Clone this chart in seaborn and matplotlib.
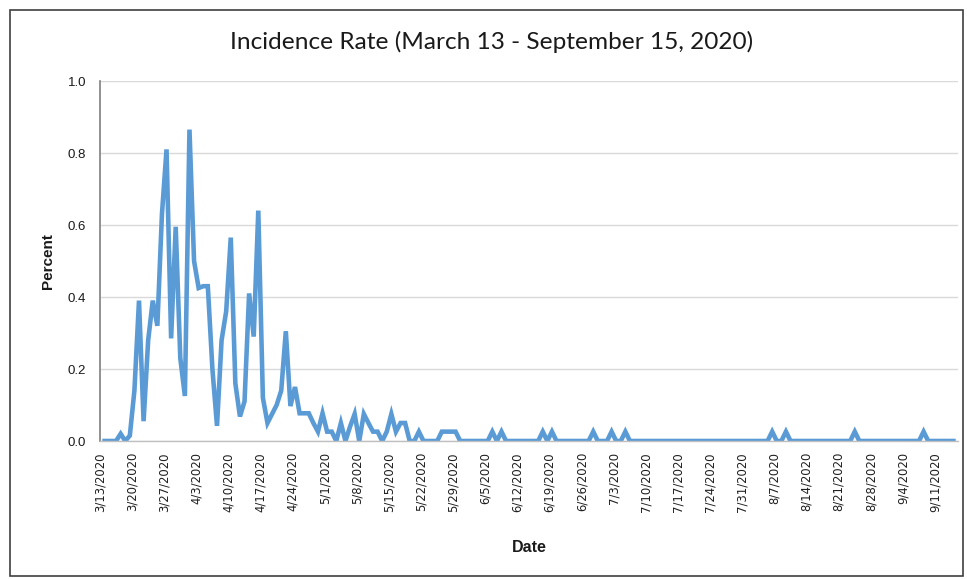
import matplotlib
matplotlib.use("Agg")
import matplotlib.pyplot as plt
import seaborn as sns
import pandas as pd
from matplotlib.patches import Rectangle

# ---- data ----
start_date = "2020-03-13"
end_date = "2020-09-15"
incidence = [
    0, 0, 0, 0, 0.02, 0, 0.015, 0.14, 0.39, 0.055,          # 3/13 - 3/22
    0.28, 0.39, 0.32, 0.63, 0.81, 0.285, 0.595, 0.23, 0.125, 0.865,  # 3/23 - 4/1
    0.5, 0.425, 0.43, 0.43, 0.2, 0.042, 0.28, 0.36, 0.565, 0.16,     # 4/2 - 4/11
    0.068, 0.11, 0.41, 0.29, 0.64, 0.12, 0.05, 0.075, 0.1, 0.14,     # 4/12 - 4/21
    0.305, 0.097, 0.15, 0.077, 0.077, 0.077, 0.05, 0.026, 0.077, 0.026,  # 4/22 - 5/1
    0.026, 0, 0.05, 0, 0.04, 0.075, 0, 0.075, 0.05, 0.026,           # 5/2 - 5/11
    0.026, 0, 0.026, 0.075, 0.026, 0.05, 0.05, 0, 0, 0.026,          # 5/12 - 5/21
    0, 0, 0, 0, 0.026, 0.026, 0.026, 0.026, 0, 0,                    # 5/22 - 5/31
    0, 0, 0, 0, 0, 0.026, 0, 0.026, 0, 0,                            # 6/1 - 6/10
    0, 0, 0, 0, 0, 0, 0.026, 0, 0.026, 0,                            # 6/11 - 6/20
    0, 0, 0, 0, 0, 0, 0, 0.026, 0, 0,                                # 6/21 - 6/30
    0, 0.026, 0, 0, 0.026, 0, 0, 0, 0, 0,                            # 7/1 - 7/10
    0, 0, 0, 0, 0, 0, 0, 0, 0, 0,                                    # 7/11 - 7/20
    0, 0, 0, 0, 0, 0, 0, 0, 0, 0,                                    # 7/21 - 7/30
    0, 0, 0, 0, 0, 0, 0.026, 0, 0, 0.026,                            # 7/31 - 8/9
    0, 0, 0, 0, 0, 0, 0, 0, 0, 0,                                    # 8/10 - 8/19
    0, 0, 0, 0, 0.026, 0, 0, 0, 0, 0,                                # 8/20 - 8/29
    0, 0, 0, 0, 0, 0, 0, 0, 0, 0.026,                                # 8/30 - 9/8
    0, 0, 0, 0, 0, 0, 0,                                             # 9/9 - 9/15
]
tick_labels = ["3/13/2020", "3/20/2020", "3/27/2020", "4/3/2020", "4/10/2020",
               "4/17/2020", "4/24/2020", "5/1/2020", "5/8/2020", "5/15/2020",
               "5/22/2020", "5/29/2020", "6/5/2020", "6/12/2020", "6/19/2020",
               "6/26/2020", "7/3/2020", "7/10/2020", "7/17/2020", "7/24/2020",
               "7/31/2020", "8/7/2020", "8/14/2020", "8/21/2020", "8/28/2020",
               "9/4/2020", "9/11/2020"]
y_ticks = [0.0, 0.2, 0.4, 0.6, 0.8, 1.0]

title = "Incidence Rate (March 13 - September 15, 2020)"
x_label = "Date"
y_label = "Percent"

dates = pd.date_range(start_date, end_date, freq="D")
df = pd.DataFrame({"date": dates, "rate": incidence})
df["pos"] = (df["date"] - dates[0]).dt.days + 0.5

sns.set_style("white")
plt.rcParams["font.family"] = ["DejaVu Sans"]

W, H = 967, 579
fig = plt.figure(figsize=(W / 100, H / 100), dpi=100)
ax = fig.add_axes([100 / W, 1 - 441 / H, 858 / W, 360 / H])

sns.lineplot(data=df, x="pos", y="rate", ax=ax, color="#5B9BD5",
             linewidth=3.3, solid_joinstyle="miter", solid_capstyle="butt")

ax.set_xlim(0, len(dates))
ax.set_ylim(0, 1.0)
ax.set_yticks(y_ticks)
ax.set_yticklabels([f"{v:.1f}" for v in y_ticks], fontsize=9.5,
                   family="Liberation Sans", color="#1a1a1a")
tick_pos = [7 * i for i in range(len(tick_labels))]
ax.set_xticks(tick_pos)
ax.set_xticklabels(tick_labels, rotation=90, fontsize=8.4,
                   family="DejaVu Sans", color="#1f1f1f")
ax.tick_params(axis="x", direction="out", length=5, width=0.8,
               color="#bfbfbf", pad=3)
ax.tick_params(axis="y", length=0, pad=10)

ax.grid(axis="y", color="#d9d9d9", linewidth=1.0)
ax.grid(axis="x", visible=False)
ax.set_axisbelow(True)
for s in ["top", "right"]:
    ax.spines[s].set_visible(False)
ax.spines["left"].set_color("#7f7f7f")
ax.spines["left"].set_linewidth(1.2)
ax.spines["bottom"].set_color("#bfbfbf")
ax.spines["bottom"].set_linewidth(1.0)

ax.set_xlabel(x_label, fontsize=11.5, fontweight="bold",
              family="Liberation Sans", labelpad=20, color="#1a1a1a")
ax.set_ylabel(y_label, fontsize=11, fontweight="bold",
              family="Liberation Sans", labelpad=9, color="#1a1a1a")

fig.text(492 / W, 1 - 42 / H, title, ha="center", va="center",
         fontsize=17.6, family="Lato", color="#1a1a1a")

# chart area border
fig.patches.append(Rectangle((10 / W, 3 / H), 953 / W, 566 / H,
                             transform=fig.transFigure, fill=False,
                             edgecolor="#404040", linewidth=1.2))

fig.savefig("out.png", dpi=100)
